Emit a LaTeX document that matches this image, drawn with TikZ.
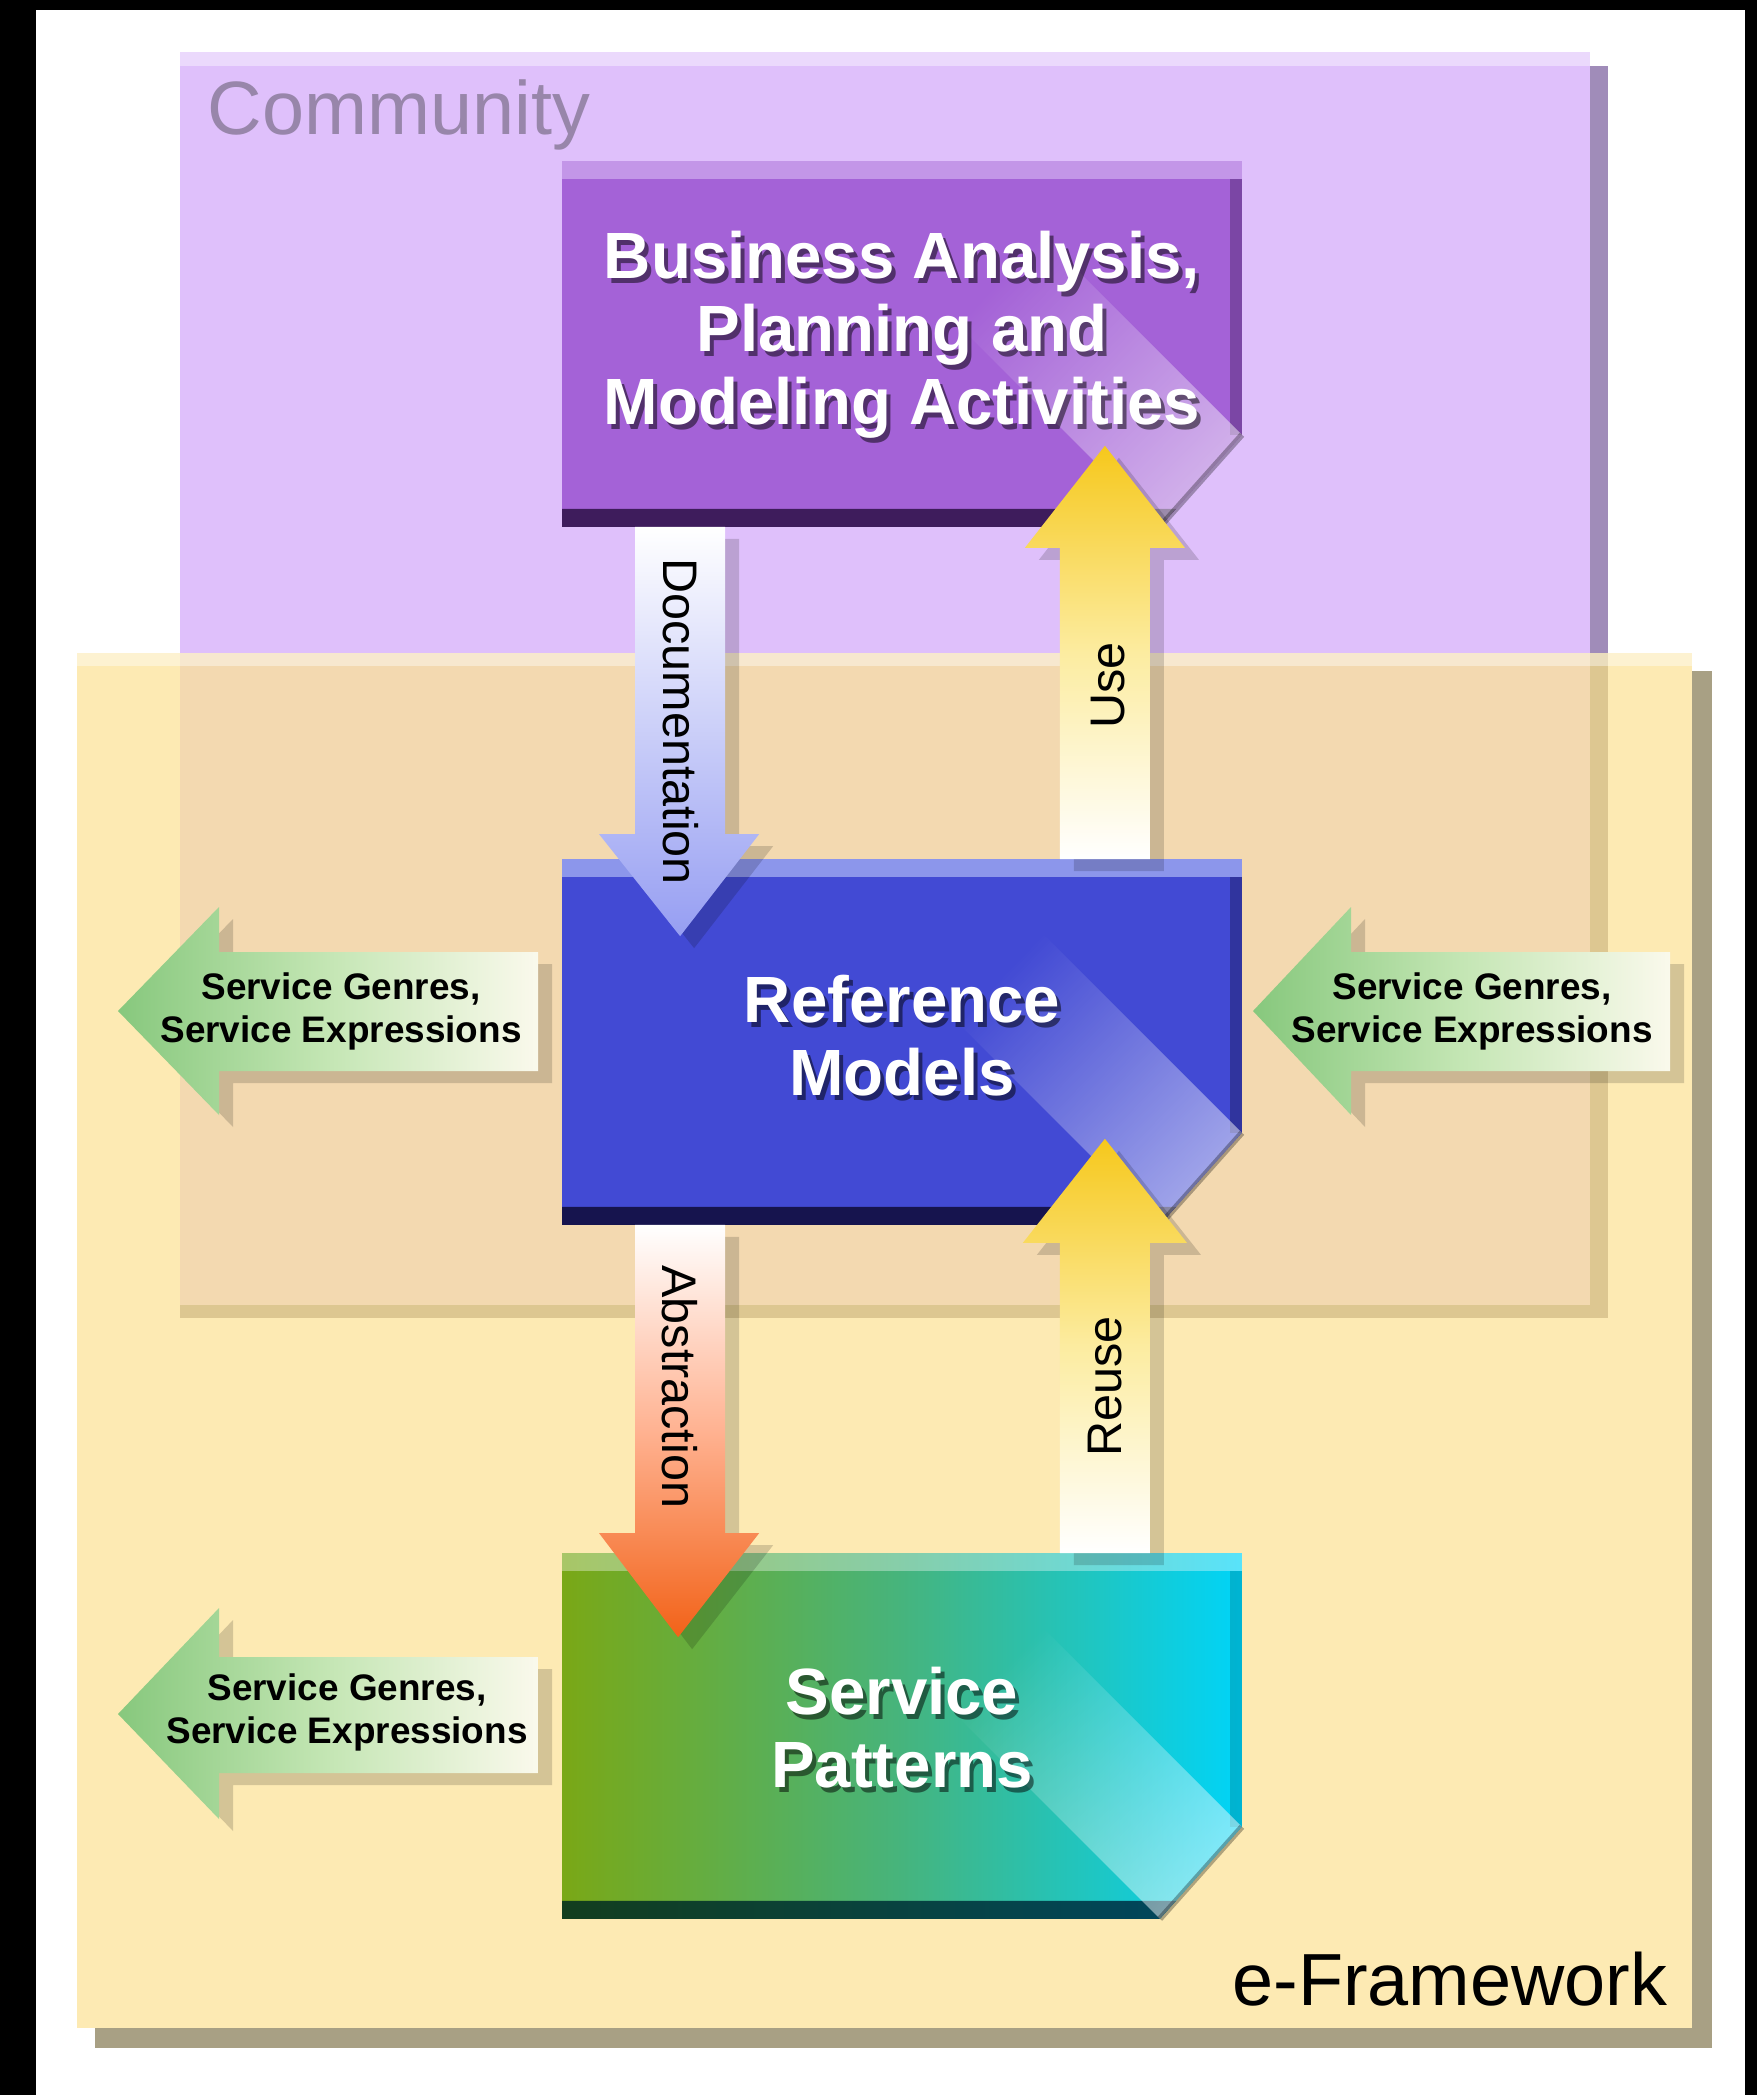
\documentclass[tikz,border=0pt]{standalone}
\usepackage{fontspec}
\setmainfont{Liberation Sans}
\usetikzlibrary{calc, fadings, shadows, positioning}

\definecolor{commfill}{RGB}{223,192,251}
\definecolor{commedge}{RGB}{160,140,185}
\definecolor{commtext}{RGB}{152,134,170}
\definecolor{framefill}{RGB}{253,234,179}
\definecolor{frameedge}{RGB}{168,160,132}
\definecolor{overlap}{RGB}{243,217,176}
\definecolor{overlapedge}{RGB}{221,199,145}
\definecolor{bizfill}{RGB}{164,98,215}
\definecolor{bizlight}{RGB}{195,150,232}
\definecolor{bizdark}{RGB}{62,28,92}
\definecolor{reffill}{RGB}{66,74,212}
\definecolor{reflight}{RGB}{140,150,235}
\definecolor{refdark}{RGB}{22,20,78}
\definecolor{patgreen}{RGB}{122,168,22}
\definecolor{patmid}{RGB}{70,180,125}
\definecolor{patcyan}{RGB}{0,212,248}
\definecolor{patdark}{RGB}{18,62,30}
\definecolor{patdarkr}{RGB}{0,70,92}
\definecolor{docblue}{RGB}{150,158,242}
\definecolor{usegold}{RGB}{246,200,28}
\definecolor{usemid}{RGB}{252,236,160}
\definecolor{absorange}{RGB}{242,98,24}
\definecolor{absmid}{RGB}{255,178,145}
\definecolor{sgreen}{RGB}{135,200,125}
\definecolor{smid}{RGB}{196,230,180}
\definecolor{scream}{RGB}{250,249,236}

\begin{document}
\begin{tikzpicture}[x=0.01cm, y=-0.01cm,
    panel/.style={minimum width=6.78cm, minimum height=3.64cm, inner sep=0pt},
    boxtext/.style={text=white, font=\bfseries\fontsize{18.6}{20.8}\selectfont, align=center, inner sep=0pt},
    boxshade/.style={boxtext, text=black, text opacity=0.5},
    arrowtext/.style={font=\fontsize{13.8}{16}\selectfont, inner sep=0pt},
    genretext/.style={font=\bfseries\fontsize{10.5}{12.2}\selectfont, align=center, inner sep=0pt},
    softshadow/.style={drop shadow={shadow xshift=1.4mm, shadow yshift=-1.2mm, fill=black, opacity=0.16}},
    fold/.style={white, opacity=0.5, path fading=east, fading angle=135},
  ]
    % Page and black frame
    \useasboundingbox (0,0) rectangle (1757,2095);
    \fill[white] (0,0) rectangle (1757,2095);
    \fill[black] (0,0) rectangle (36,2095);      % left
    \fill[black] (0,0) rectangle (1757,10);      % top
    \fill[black] (1745,0) rectangle (1757,2095); % right

    % e-Framework panel
    \fill[frameedge] (95,671) rectangle (1712,2048);
    \fill[framefill] (77,653) rectangle (1692,2028);

    % Community panel (overlapping part is tan)
    \fill[commedge] (196,66) rectangle (1608,653);
    \fill[overlapedge] (180,653) rectangle (1608,1318);
    \fill[commfill] (180,52) rectangle (1590,653);
    \fill[overlap] (180,653) rectangle (1590,1305);
    \fill[white, opacity=0.4] (180,52) rectangle (1590,66);
    \fill[white, opacity=0.4] (77,653) rectangle (1692,666);

    % Panel titles
    \node[font=\fontsize{21.5}{24}\selectfont, text=commtext, anchor=base west, inner sep=0pt] (commlbl) at (207,135) {Community};
    \node[font=\fontsize{21}{24}\selectfont, anchor=base east, inner sep=0pt] (framelbl) at (1668,2005) {e-Framework};

    % The three boxes
    \node[panel] (biz) at (902,344) {};
    \node[panel] (ref) at (902,1042) {};
    \node[panel] (pat) at (902,1736) {};

    % Business box
    \fill[bizfill] (biz.north west) -- (biz.north east) -- ($(biz.south east)+(0,-92)$) -- ($(biz.south east)+(-82,0)$) -- (biz.south west) -- cycle;
    \fill[bizlight] (biz.north west) rectangle ($(biz.north east)+(0,18)$);
    \fill[bizdark, opacity=0.4] ($(biz.north east)+(-12,18)$) rectangle ($(biz.south east)+(0,-92)$);
    \fill[bizdark] ($(biz.south west)+(0,-18)$) -- ($(biz.south east)+(-66,-18)$) -- ($(biz.south east)+(-82,0)$) -- (biz.south west) -- cycle;
    \fill[fold] ($(biz.south east)+(0,-92)$) -- ($(biz.south east)+(-82,0)$) -- ($(biz.south east)+(-282,-200)$) -- ($(biz.south east)+(-200,-292)$) -- cycle;
    \draw[black, opacity=0.3, line width=0.6mm] ($(biz.south east)+(0,-92)$) -- ($(biz.south east)+(-82,0)$);

    % Reference box
    \fill[reffill] (ref.north west) -- (ref.north east) -- ($(ref.south east)+(0,-92)$) -- ($(ref.south east)+(-82,0)$) -- (ref.south west) -- cycle;
    \fill[reflight] (ref.north west) rectangle ($(ref.north east)+(0,18)$);
    \fill[refdark, opacity=0.4] ($(ref.north east)+(-12,18)$) rectangle ($(ref.south east)+(0,-92)$);
    \fill[refdark] ($(ref.south west)+(0,-18)$) -- ($(ref.south east)+(-66,-18)$) -- ($(ref.south east)+(-82,0)$) -- (ref.south west) -- cycle;
    \fill[fold] ($(ref.south east)+(0,-92)$) -- ($(ref.south east)+(-82,0)$) -- ($(ref.south east)+(-282,-200)$) -- ($(ref.south east)+(-200,-292)$) -- cycle;
    \draw[black, opacity=0.3, line width=0.6mm] ($(ref.south east)+(0,-92)$) -- ($(ref.south east)+(-82,0)$);

    % Patterns box
    \shade[left color=patgreen, right color=patcyan, middle color=patmid] (pat.north west) -- (pat.north east) -- ($(pat.south east)+(0,-92)$) -- ($(pat.south east)+(-82,0)$) -- (pat.south west) -- cycle;
    \fill[white, opacity=0.35] (pat.north west) rectangle ($(pat.north east)+(0,18)$);
    \fill[black, opacity=0.15] ($(pat.north east)+(-12,18)$) rectangle ($(pat.south east)+(0,-92)$);
    \shade[left color=patdark, right color=patdarkr] ($(pat.south west)+(0,-18)$) -- ($(pat.south east)+(-66,-18)$) -- ($(pat.south east)+(-82,0)$) -- (pat.south west) -- cycle;
    \fill[fold] ($(pat.south east)+(0,-92)$) -- ($(pat.south east)+(-82,0)$) -- ($(pat.south east)+(-282,-200)$) -- ($(pat.south east)+(-200,-292)$) -- cycle;
    \draw[black, opacity=0.3, line width=0.6mm] ($(pat.south east)+(0,-92)$) -- ($(pat.south east)+(-82,0)$);

    % Documentation: Business -> Reference
    \coordinate (docA) at ($(biz.south west)+(118,0)$);
    \coordinate (docB) at ($(ref.north west)+(118,77)$);
    \shade[softshadow, top color=white, bottom color=docblue] ($(docA)+(-45,0)$) -- ($(docB)+(-45,-102)$) -- ($(docB)+(-81,-102)$) -- (docB) -- ($(docB)+(79,-102)$) -- ($(docB)+(45,-102)$) -- ($(docA)+(45,0)$) -- cycle;

    % Use: Reference -> Business
    \coordinate (useA) at ($(ref.north east)+(-137,0)$);
    \coordinate (useB) at ($(biz.south east)+(-137,-81)$);
    \shade[softshadow, top color=usegold, bottom color=white, middle color=usemid] ($(useA)+(-45,0)$) -- ($(useB)+(-45,102)$) -- ($(useB)+(-80,102)$) -- (useB) -- ($(useB)+(80,102)$) -- ($(useB)+(45,102)$) -- ($(useA)+(45,0)$) -- cycle;

    % Abstraction: Reference -> Patterns
    \coordinate (absA) at ($(ref.south west)+(118,0)$);
    \coordinate (absB) at ($(pat.north west)+(116,84)$);
    \shade[softshadow, top color=white, bottom color=absorange, middle color=absmid] ($(absA)+(-45,0)$) -- ($(absB)+(-43,-104)$) -- ($(absB)+(-79,-104)$) -- (absB) -- ($(absB)+(81,-104)$) -- ($(absB)+(47,-104)$) -- ($(absA)+(45,0)$) -- cycle;

    % Reuse: Patterns -> Reference
    \coordinate (reuA) at ($(pat.north east)+(-137,0)$);
    \coordinate (reuB) at ($(ref.south east)+(-137,-86)$);
    \shade[softshadow, top color=usegold, bottom color=white, middle color=usemid] ($(reuA)+(-45,0)$) -- ($(reuB)+(-45,104)$) -- ($(reuB)+(-82,104)$) -- (reuB) -- ($(reuB)+(82,104)$) -- ($(reuB)+(45,104)$) -- ($(reuA)+(45,0)$) -- cycle;

    % Arrow labels
    \node[arrowtext, rotate=-90] (doclbl) at ($(docA)+(1,195)$) {Documentation};
    \node[arrowtext, rotate=90] (uselbl) at ($(useA)+(3,-174)$) {Use};
    \node[arrowtext, rotate=-90] (abslbl) at ($(absA)+(0,162)$) {Abstraction};
    \node[arrowtext, rotate=90] (reulbl) at ($(reuA)+(0,-167)$) {Reuse};

    % Box labels with shadow
    \node[boxshade] (bizsh) at ($(biz.center)+(4,-4)$) {Business Analysis,\\Planning and\\Modeling Activities};
    \node[boxtext] (bizlbl) at ($(biz.center)+(0,-9)$) {Business Analysis,\\Planning and\\Modeling Activities};
    \node[boxshade] (refsh) at ($(ref.center)+(4,-1)$) {Reference\\Models};
    \node[boxtext] (reflbl) at ($(ref.center)+(0,-6)$) {Reference\\Models};
    \node[boxshade] (patsh) at ($(pat.center)+(4,-3)$) {Service\\Patterns};
    \node[boxtext] (patlbl) at ($(pat.center)+(0,-8)$) {Service\\Patterns};

    % Green arrows (service genres)
    \coordinate (genL) at (118,1011);
    \coordinate (genR) at (1253,1011);
    \coordinate (genB) at (118,1714);
    \shade[softshadow, left color=sgreen, right color=scream, middle color=smid] (genL) -- ($(genL)+(101,-104)$) -- ($(genL)+(101,-59)$) -- ($(genL)+(420,-59)$) -- ($(genL)+(420,60)$) -- ($(genL)+(101,60)$) -- ($(genL)+(101,104)$) -- cycle;
    \shade[softshadow, left color=sgreen, right color=scream, middle color=smid] (genR) -- ($(genR)+(98,-104)$) -- ($(genR)+(98,-59)$) -- ($(genR)+(417,-59)$) -- ($(genR)+(417,60)$) -- ($(genR)+(98,60)$) -- ($(genR)+(98,104)$) -- cycle;
    \shade[softshadow, left color=sgreen, right color=scream, middle color=smid] (genB) -- ($(genB)+(101,-106)$) -- ($(genB)+(101,-57)$) -- ($(genB)+(420,-57)$) -- ($(genB)+(420,59)$) -- ($(genB)+(101,59)$) -- ($(genB)+(101,105)$) -- cycle;
    \node[genretext] (genLlbl) at ($(genL)+(223,0)$) {Service Genres,\\Service Expressions};
    \node[genretext] (genRlbl) at ($(genR)+(219,0)$) {Service Genres,\\Service Expressions};
    \node[genretext] (genBlbl) at ($(genB)+(229,-2)$) {Service Genres,\\Service Expressions};
\end{tikzpicture}
\end{document}
